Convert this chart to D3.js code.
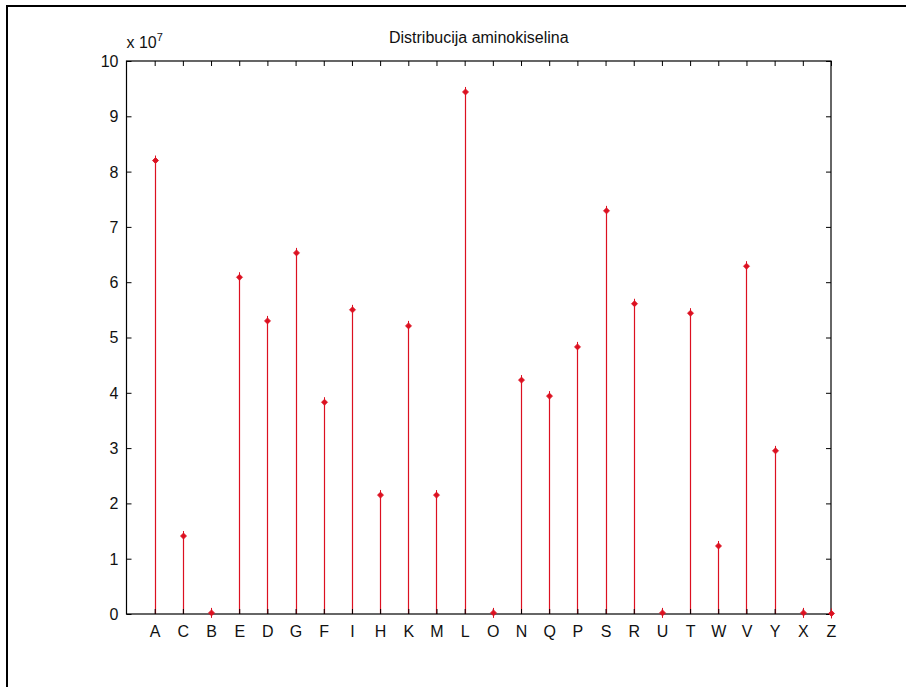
<!DOCTYPE html>
<html>
<head>
<meta charset="utf-8">
<script src="https://cdn.jsdelivr.net/npm/d3@7"></script>
<style>
  html, body { margin: 0; padding: 0; background: #fff; }
  svg { display: block; }
  text { font-family: "Liberation Sans", Arial, sans-serif; fill: #111; }
</style>
</head>
<body>
<svg id="chart" width="906" height="687"></svg>
<script>
// Amino acid letters in plotting order
const categories = ["A","C","B","E","D","G","F","I","H","K","M","L","O","N","Q","P","S","R","U","T","W","V","Y","X","Z"];
// Counts, in units of 10^7
const counts = [8.20, 1.41, 0.02, 6.09, 5.30, 6.53, 3.83, 5.50, 2.15, 5.21, 2.15, 9.44, 0.02, 4.23, 3.94, 4.83, 7.29, 5.61, 0.02, 5.44, 1.23, 6.29, 2.95, 0.02, 0.01];
const yTicks = [0,1,2,3,4,5,6,7,8,9,10];
const title = "Distribucija aminokiselina";

const svg = d3.select("#chart");

// outer figure frame
svg.append("path")
  .attr("d", "M7,700 L7,6 L920,6")
  .attr("fill", "none").attr("stroke", "#000").attr("stroke-width", 2);

const plotL = 126.5, plotR = 831, plotT = 61, plotB = 614;

const x = d3.scaleLinear().domain([0, categories.length]).range([plotL, plotR]);
const y = d3.scaleLinear().domain([0, 10]).range([plotB, plotT]);

const red = "#dc1020";
const tickLen = 5;

// stems
const g = svg.append("g");
g.selectAll("line.stem")
  .data(counts)
  .join("line")
  .attr("class", "stem")
  .attr("x1", (d, i) => Math.round(x(i + 1)) + 0.5)
  .attr("x2", (d, i) => Math.round(x(i + 1)) + 0.5)
  .attr("y1", y(0))
  .attr("y2", d => y(d))
  .attr("stroke", red)
  .attr("stroke-width", 1.2);

// axes box
svg.append("rect")
  .attr("x", plotL).attr("y", plotT)
  .attr("width", plotR - plotL).attr("height", plotB - plotT)
  .attr("fill", "none").attr("stroke", "#000").attr("stroke-width", 1.2);

// y ticks (left + right, inward)
const yAxisL = d3.axisLeft(y).tickValues(yTicks).tickSize(-tickLen).tickPadding(8).tickFormat(d3.format("d"));
const gyL = svg.append("g").attr("transform", `translate(${plotL},0)`).call(yAxisL);
gyL.select(".domain").remove();
gyL.selectAll("text").style("font-size", "16px").attr("dy", "0.34em");
gyL.selectAll("line").attr("stroke", "#000");

const yAxisR = d3.axisRight(y).tickValues(yTicks).tickSize(-tickLen).tickFormat("");
const gyR = svg.append("g").attr("transform", `translate(${plotR},0)`).call(yAxisR);
gyR.select(".domain").remove();
gyR.selectAll("line").attr("stroke", "#000");

// x ticks (bottom + top, inward)
const xTickVals = categories.map((c, i) => i + 1);
const xAxisB = d3.axisBottom(x).tickValues(xTickVals).tickSize(-tickLen).tickPadding(12)
  .tickFormat((d) => categories[d - 1]);
const gxB = svg.append("g").attr("transform", `translate(0,${plotB})`).call(xAxisB);
gxB.select(".domain").remove();
gxB.selectAll("text").style("font-size", "16px");
gxB.selectAll("line").attr("stroke", "#000");

const xAxisT = d3.axisTop(x).tickValues(xTickVals).tickSize(-tickLen).tickFormat("");
const gxT = svg.append("g").attr("transform", `translate(0,${plotT})`).call(xAxisT);
gxT.select(".domain").remove();
gxT.selectAll("line").attr("stroke", "#000");

// markers
const mk = svg.append("g");
counts.forEach((d, i) => {
  const cx = Math.round(x(i + 1)) + 0.5, cy = y(d);
  mk.append("path")
    .attr("d", `M${cx - 3},${cy} L${cx},${cy - 3} L${cx + 3},${cy} L${cx},${cy + 3} Z`)
    .attr("fill", red).attr("stroke", red).attr("stroke-width", 0.8);
  mk.append("line").attr("x1", cx).attr("x2", cx).attr("y1", cy - 5).attr("y2", cy + 5)
    .attr("stroke", red).attr("stroke-width", 1);
});

// exponent label
const ex = svg.append("text").attr("x", plotL).attr("y", 48).style("font-size", "16px");
ex.append("tspan").text("x 10");
ex.append("tspan").attr("dy", -7).style("font-size", "11px").text("7");

// title
svg.append("text")
  .attr("x", (plotL + plotR) / 2).attr("y", 43)
  .attr("text-anchor", "middle")
  .style("font-size", "16px")
  .text(title);
</script>
</body>
</html>
